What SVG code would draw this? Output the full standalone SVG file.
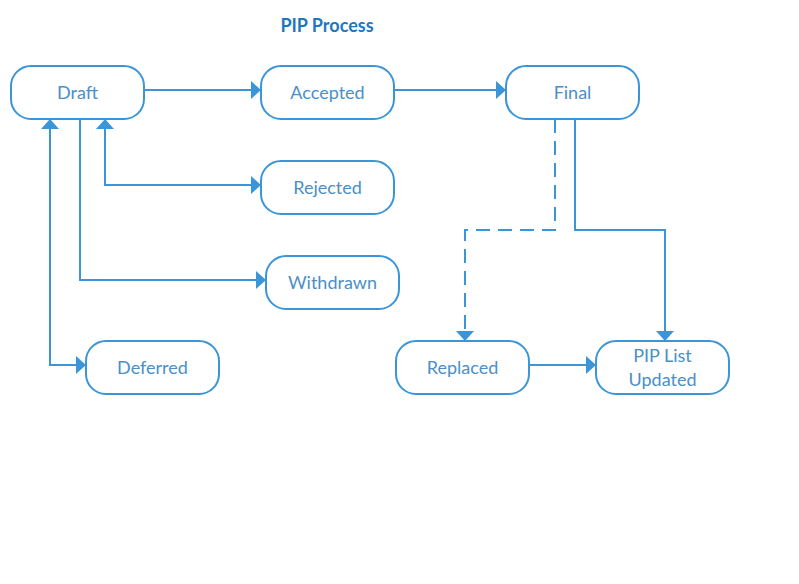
<svg xmlns="http://www.w3.org/2000/svg" width="799" height="584" viewBox="0 0 799 584">
<defs>
<style>
.node rect{fill:#fff;stroke:#3a96d9;stroke-width:2}
.node text{font-family:Lato,"Liberation Sans",sans-serif;font-size:18px;fill:#4a8fc8;text-anchor:middle}
.title{font-family:Lato,"Liberation Sans",sans-serif;font-size:18px;font-weight:bold;fill:#1f78bd;text-anchor:middle}
.edge{fill:none;stroke:#3a96d9;stroke-width:2}
.dash{stroke-dasharray:14 8}
</style>
<marker id="arr" viewBox="0 0 10 18" refX="10" refY="9" markerWidth="10" markerHeight="18" markerUnits="userSpaceOnUse" orient="auto">
<path d="M0,0 L10,9 L0,18 Z" fill="#3a96d9"/>
</marker>
</defs>
<rect width="799" height="584" fill="#fff"/>
<text class="title" x="327" y="32">PIP Process</text>
<g id="connectors">
<path class="edge" d="M144,90 H261" marker-end="url(#arr)"/>
<path class="edge" d="M394,90 H506" marker-end="url(#arr)"/>
<path class="edge" d="M261,185 H105 V119" marker-end="url(#arr)"/>
<path class="edge" d="M105,185 H261" marker-end="url(#arr)"/>
<path class="edge" d="M80,119 V280 H266" marker-end="url(#arr)"/>
<path class="edge" d="M86,365 H50 V119" marker-end="url(#arr)"/>
<path class="edge" d="M50,365 H86" marker-end="url(#arr)"/>
<path class="edge dash" d="M555,119 V230 H465 V341" marker-end="url(#arr)"/>
<path class="edge" d="M575,119 V230 H665 V341" marker-end="url(#arr)"/>
<path class="edge" d="M529,365 H596" marker-end="url(#arr)"/>
</g>
<g id="draft" class="node"><rect x="11" y="66" width="133" height="53" rx="20"/><text x="77.5" y="98.5">Draft</text></g>
<g id="accepted" class="node"><rect x="261" y="66" width="133" height="53" rx="20"/><text x="327.5" y="98.5">Accepted</text></g>
<g id="final" class="node"><rect x="506" y="66" width="133" height="53" rx="20"/><text x="572.5" y="98.5">Final</text></g>
<g id="rejected" class="node"><rect x="261" y="161" width="133" height="53" rx="20"/><text x="327.5" y="193.5">Rejected</text></g>
<g id="withdrawn" class="node"><rect x="266" y="256" width="133" height="53" rx="20"/><text x="332.5" y="288.5">Withdrawn</text></g>
<g id="deferred" class="node"><rect x="86" y="341" width="133" height="53" rx="20"/><text x="152.5" y="373.5">Deferred</text></g>
<g id="replaced" class="node"><rect x="396" y="341" width="133" height="53" rx="20"/><text x="462.5" y="373.5">Replaced</text></g>
<g id="piplist" class="node"><rect x="596" y="341" width="133" height="53" rx="20"/><text x="662.5" y="361.5">PIP List</text><text x="662.5" y="385.5">Updated</text></g>
</svg>
